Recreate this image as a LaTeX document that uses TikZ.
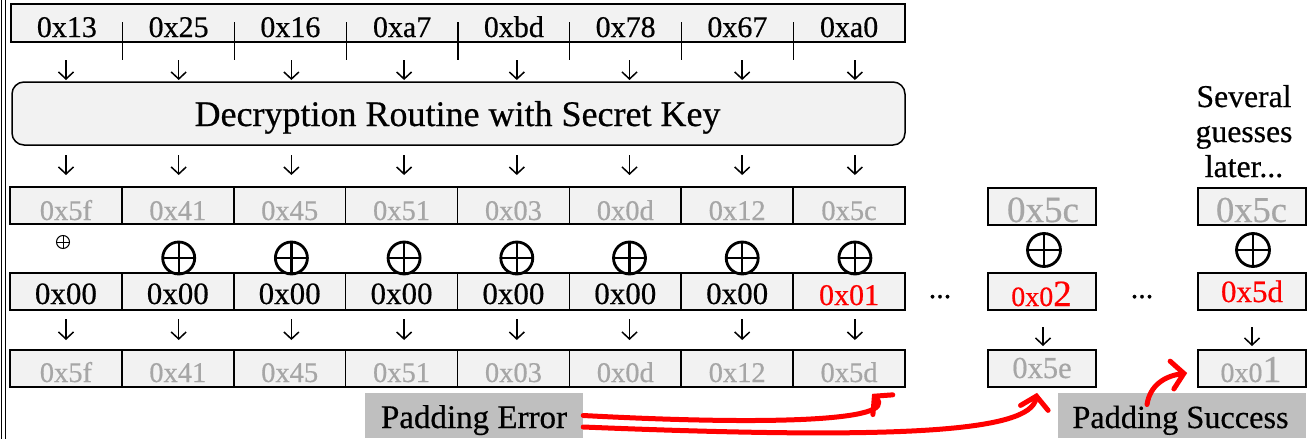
\documentclass[tikz,border=0pt]{standalone}
\usepackage{fontspec}
\setmainfont{Liberation Serif}[BoldFont=Liberation Serif, BoldFeatures={FakeBold=0.5}]
\usetikzlibrary{arrows.meta}
\definecolor{cellfill}{RGB}{242,242,242}
\definecolor{hexgray}{RGB}{166,166,166}
\definecolor{tagfill}{RGB}{191,191,191}
\definecolor{hot}{RGB}{255,0,0}
\newcommand{\fs}[1]{\fontsize{#1}{#1}\selectfont\bfseries}

\begin{document}
\begin{tikzpicture}[x=1pt,y=-1pt,
  cell/.style={draw=black, line width=1.7pt, fill=cellfill, inner sep=0pt,
    minimum height=37pt},
  hex/.style={inner sep=0pt, anchor=base},
  down/.style={-{Straight Barb[length=7pt,width=15pt]}, line width=1.5pt},
  xorsym/.style={circle, draw, line width=2.8pt, minimum size=32pt, inner sep=0pt,
    path picture={\draw[line width=2.4pt]
      (path picture bounding box.north) -- (path picture bounding box.south)
      (path picture bounding box.west) -- (path picture bounding box.east);}},
  xorsmall/.style={circle, draw, line width=1pt, minimum size=13pt, inner sep=0pt,
    path picture={\draw[line width=1pt]
      (path picture bounding box.north) -- (path picture bounding box.south)
      (path picture bounding box.west) -- (path picture bounding box.east);}},
  tag/.style={fill=tagfill, inner sep=0pt, minimum height=45pt},
  hint/.style={draw=hot, line width=5pt, line cap=round, line join=round,
    -{Straight Barb[length=12pt,width=28pt,line cap=round]}}
]
\useasboundingbox (0,0) rectangle (1311,439);

% left margin rules
\draw[line width=0.8pt] (1,0) -- (1,439);
\draw[line width=1.6pt] (5.5,0) -- (5.5,439);

% ciphertext block
\node[cell, line width=1.3pt, minimum width=894pt, minimum height=38pt] (inrow) at (458,23) {};
\foreach \v [count=\k from 0] in {0x13,0x25,0x16,0xa7,0xbd,0x78,0x67,0xa0}{
  \pgfmathsetmacro\cx{11+111.75*(\k+0.5)}
  \node[hex, font=\fs{30}] (c\k) at (\cx,37) {\v};
}
\foreach \k in {1,...,7}{
  \pgfmathsetmacro\sx{11+111.75*\k}
  \draw[line width=1.3pt] (\sx,22) -- (\sx,60);
}
\foreach \k in {0,...,7}{
  \pgfmathsetmacro\ax{66+112.7*\k}
  \coordinate (ia\k) at (\ax,60);
  \coordinate (ib\k) at (\ax,80);
  \draw[down] (ia\k) -- (ib\k);
  \coordinate (da\k) at (\ax,155);
  \coordinate (db\k) at (\ax,175);
  \draw[down] (da\k) -- (db\k);
  \coordinate (ea\k) at (\ax,319);
  \coordinate (eb\k) at (\ax,340);
  \draw[down] (ea\k) -- (eb\k);
}

% decryption routine
\node[draw, line width=1.5pt, fill=cellfill, rounded corners=12pt, inner sep=0pt,
  minimum width=893pt, minimum height=63pt] (dec) at (458.5,113.5) {};
\node[hex, font=\fs{36}] (dectxt) at (457.5,126) {Decryption Routine with Secret Key};

% intermediate state, guess vector, resulting plaintext
\foreach \v [count=\k from 0] in {0x5f,0x41,0x45,0x51,0x03,0x0d,0x12,0x5c}{
  \pgfmathsetmacro\cx{10+111.875*(\k+0.5)}
  \node[cell, minimum width=111.875pt] (a\k) at (\cx,205.5) {};
  \node[hex, font=\fs{28.5}, text=hexgray] (at\k) at (\cx,220) {\v};
}
\foreach \k in {0,...,7}{
  \pgfmathsetmacro\cx{10+111.875*(\k+0.5)}
  \node[cell, minimum width=111.875pt] (g\k) at (\cx,291.5) {};
}
\foreach \k in {0,...,6}{
  \node[hex, font=\fs{31}] (gt\k) at (g\k.center |- 0,304) {0x00};
}
\node[hex, font=\fs{30}, text=hot] (gt7) at (g7.center |- 0,305) {0x01};
\foreach \v [count=\k from 0] in {0x5f,0x41,0x45,0x51,0x03,0x0d,0x12,0x5d}{
  \pgfmathsetmacro\cx{10+111.875*(\k+0.5)}
  \node[cell, minimum width=111.875pt] (b\k) at (\cx,368.5) {};
  \node[hex, font=\fs{28.5}, text=hexgray] (bt\k) at (\cx,382) {\v};
}

% xor operators
\node[xorsmall] (x0) at (63,242) {};
\foreach \k in {1,...,7}{
  \pgfmathsetmacro\ax{66+112.7*\k}
  \node[xorsym] (x\k) at (\ax,258) {};
}

% second guess
\node[cell, minimum width=108pt] (pa) at (1042,206.5) {};
\node[hex, font=\fs{37}, text=hexgray] (pat) at (1043,222) {0x5c};
\node[xorsym, minimum size=33pt] (px) at (1044,250) {};
\node[cell, minimum width=108pt] (pg) at (1042,291.5) {};
\node[hex, font=\fs{28}, text=hot] (pgt) at (1041.5,306) {0x0{\fs{37}2}};
\node[cell, minimum width=108pt] (pb) at (1042,368.5) {};
\node[hex, font=\fs{30.5}, text=hexgray] (pbt) at (1042,378) {0x5e};
\coordinate (pa1) at (1043,327);
\coordinate (pb1) at (1043,346);
\draw[down] (pa1) -- (pb1);

% final guess
\node[cell, minimum width=108pt] (qa) at (1252,206.5) {};
\node[hex, font=\fs{36.5}, text=hexgray] (qat) at (1251.5,222) {0x5c};
\node[xorsym, minimum size=33pt] (qx) at (1253,250) {};
\node[cell, minimum width=108pt] (qg) at (1252,291.5) {};
\node[hex, font=\fs{31}, text=hot] (qgt) at (1252,302) {0x5d};
\node[cell, minimum width=108pt] (qb) at (1252,368.5) {};
\node[hex, font=\fs{28}, text=hexgray] (qbt) at (1251,382) {0x0{\fs{38}1}};
\coordinate (qa1) at (1252,327);
\coordinate (qb1) at (1252,346);
\draw[down] (qa1) -- (qb1);

% ellipses between guesses
\node[hex, font=\fs{30}] (dots1) at (940,298) {...};
\node[hex, font=\fs{30}] (dots2) at (1142,298) {...};

% note above the final guess
\node[hex, font=\fs{31.7}] (n1) at (1244,107) {Several};
\node[hex, font=\fs{31.7}] (n2) at (1244,142) {guesses};
\node[hex, font=\fs{31.7}] (n3) at (1244,177) {later...};

% outcome tags
\node[tag, minimum width=218pt] (pe) at (474,415.5) {};
\node[hex, font=\fs{33}] (pet) at (474,428) {Padding Error};
\node[tag, minimum width=248pt] (ps) at (1182,415.5) {};
\node[hex, font=\fs{32.3}] (pst) at (1180.5,428) {Padding Success};

% outcome arrows
\draw[hint] (pe.east) .. controls (760,425) and (900,422) .. ([xshift=23pt,yshift=-6pt]b7.south);
\draw[hint] ([yshift=-11.5pt]pe.east) .. controls (900,440) and (1030,432) .. ([xshift=-5pt,yshift=-5pt]pb.south);
\draw[hint] ([xshift=-35pt,yshift=11pt]ps.center) .. controls (1150,385) and (1165,376) .. ([xshift=-10pt,yshift=-4.5pt]qb.west);
\end{tikzpicture}
\end{document}
